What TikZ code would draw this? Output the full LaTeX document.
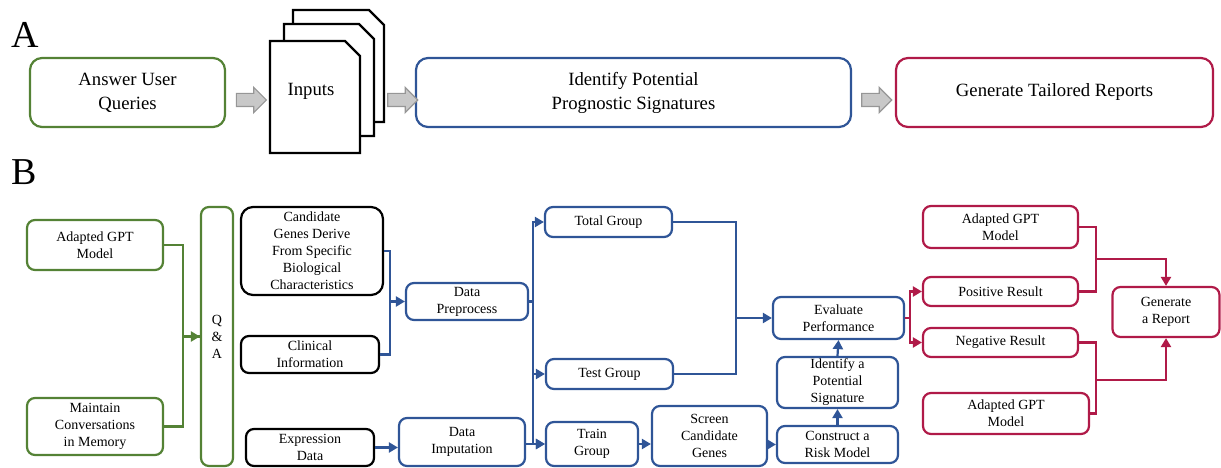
\documentclass[tikz,border=0pt]{standalone}
\usepackage{fontspec}
\setmainfont{Liberation Serif}
\usetikzlibrary{arrows.meta,shapes.arrows}
\definecolor{qagreen}{RGB}{84,130,53}
\definecolor{sigblue}{RGB}{47,85,151}
\definecolor{repred}{RGB}{176,26,72}
\definecolor{arrowfill}{RGB}{200,200,200}
\definecolor{arrowedge}{RGB}{150,150,150}
\begin{document}
\begin{tikzpicture}[x = 1pt, y = -1pt,
    box/.style = {draw, rounded corners = 8pt, line width = 2.2pt, align = center,
      inner sep = 0pt, font = \fontsize{14}{17}\selectfont},
    bigbox/.style = {box, rounded corners = 12pt, font = \fontsize{18.7}{24}\selectfont},
    link/.style = {line width = 2.2pt},
    flow/.style = {link, -{Triangle[length = 9pt, width = 10pt]}},
    blockarrow/.style = {single arrow, draw = arrowedge, fill = arrowfill, line width = 1.2pt,
      minimum height = 30pt, inner xsep = 1pt, inner ysep = 6pt, single arrow head extend = 6pt},
    page/.style = {draw, fill = white, line width = 2.4pt}]
  \useasboundingbox (0, 0) rectangle (1221, 468);
  % panel labels
  \node[font = \fontsize{38}{38}\selectfont] (labA) at (25, 35) {A};
  \node[font = \fontsize{38}{38}\selectfont] (labB) at (24, 172) {B};
  % panel A
  \node[bigbox, qagreen, text = black, minimum width = 195pt, minimum height = 69pt]
    (ans) at (127.5, 92.5) {Answer User\\Queries};
  \draw[page] (293, 10) -- (369, 10) -- (384, 25) -- (384, 122) -- (293, 122) -- cycle;
  \draw[page] (284, 24) -- (359, 24) -- (374, 39) -- (374, 136) -- (284, 136) -- cycle;
  \draw[page] (270, 41) -- (345, 41) -- (360, 56) -- (360, 153) -- (270, 153) -- cycle;
  \node[font = \fontsize{18.7}{24}\selectfont] (inputs) at (311, 91) {Inputs};
  \coordinate (inputsin) at (270, 100);
  \coordinate (inputsout) at (384, 100);
  \node[bigbox, sigblue, text = black, minimum width = 435pt, minimum height = 69pt]
    (ident) at (633.5, 92.5) {Identify Potential\\Prognostic Signatures};
  \node[bigbox, repred, text = black, minimum width = 317pt, minimum height = 69pt]
    (gen) at (1054.5, 92.5) {Generate Tailored Reports};
  \path (ans.east |- inputsin) -- (inputsin) node[blockarrow, midway] {};
  \path (inputsout) -- (inputsout -| ident.west) node[blockarrow, midway] {};
  \path (ident.east |- inputsout) -- (inputsout -| gen.west) node[blockarrow, midway] {};
  % panel B: question answering
  \node[box, qagreen, text = black, minimum width = 136pt, minimum height = 50pt]
    (gptL) at (95, 245) {Adapted GPT\\Model};
  \node[box, qagreen, text = black, minimum width = 136pt, minimum height = 57pt]
    (mem) at (95, 426.5) {Maintain\\Conversations\\in Memory};
  \node[box, qagreen, text = black, minimum width = 32pt, minimum height = 259pt]
    (qa) at (217, 336.5) {Q\\\&\\A};
  \draw[flow, qagreen] (gptL.east) -- ++(19, 0) |- (qa.west);
  \draw[link, qagreen] (mem.east) -- ++(19, 0) |- (qa.west);
  % panel B: inputs
  \node[box, rounded corners = 12pt, minimum width = 142pt, minimum height = 88pt]
    (cand) at (312, 251) {Candidate\\Genes Derive\\From Specific\\Biological\\Characteristics};
  \node[box, minimum width = 138pt, minimum height = 37pt]
    (clin) at (310, 354.5) {Clinical\\Information};
  \node[box, minimum width = 128pt, minimum height = 37pt]
    (expr) at (310, 447.5) {Expression\\Data};
  % panel B: signature pipeline
  \node[box, sigblue, text = black, minimum width = 122pt, minimum height = 37pt]
    (prep) at (467, 301.5) {Data\\Preprocess};
  \node[box, sigblue, text = black, minimum width = 126pt, minimum height = 48pt]
    (imput) at (462, 442) {Data\\Imputation};
  \node[box, sigblue, text = black, minimum width = 127pt, minimum height = 30pt]
    (total) at (608.5, 222) {Total Group};
  \node[box, sigblue, text = black, minimum width = 127pt, minimum height = 30pt]
    (test) at (609.5, 374) {Test Group};
  \node[box, sigblue, text = black, minimum width = 92pt, minimum height = 44pt]
    (train) at (592, 444) {Train\\Group};
  \node[box, sigblue, text = black, minimum width = 115pt, minimum height = 60pt]
    (screen) at (709.5, 436) {Screen\\Candidate\\Genes};
  \node[box, sigblue, text = black, minimum width = 131pt, minimum height = 42pt]
    (eval) at (838.5, 318) {Evaluate\\Performance};
  \node[box, sigblue, text = black, minimum width = 121pt, minimum height = 51pt]
    (sig) at (837.5, 382.5) {Identify a\\Potential\\Signature};
  \node[box, sigblue, text = black, minimum width = 121pt, minimum height = 37pt]
    (risk) at (837.5, 444.5) {Construct a\\Risk Model};
  \coordinate (j1) at (390, 301.5);
  \coordinate (j2) at (533, 301.5);
  \coordinate (j3) at (736, 318);
  \draw[link, sigblue] (cand.east) -| (j1) |- (clin.east);
  \draw[flow, sigblue] (j1) -- (prep.west);
  \draw[flow, sigblue] (expr.east) -- (expr.east -| imput.west);
  \draw[link, sigblue] (prep.east) -- (j2);
  \draw[flow, sigblue] (j2) |- (total.west);
  \draw[flow, sigblue] (j2) |- (test.west);
  \draw[flow, sigblue] (j2) |- (train.west);
  \draw[flow, sigblue] (imput.east |- train.west) -- (train.west);
  \draw[flow, sigblue] (train.east) -- (train.east -| screen.west);
  \draw[flow, sigblue] (screen.east |- risk.west) -- (risk.west);
  \draw[flow, sigblue] (risk.north) -- (sig.south);
  \draw[flow, sigblue] (sig.north) -- (eval.south);
  \draw[link, sigblue] (total.east) -| (j3) |- (test.east);
  \draw[flow, sigblue] (j3) -- (eval.west);
  % panel B: reports
  \node[box, repred, text = black, minimum width = 155pt, minimum height = 42pt]
    (gptT) at (1000.5, 227) {Adapted GPT\\Model};
  \node[box, repred, text = black, minimum width = 155pt, minimum height = 29pt]
    (pos) at (1000.5, 291.5) {Positive Result};
  \node[box, repred, text = black, minimum width = 155pt, minimum height = 29pt]
    (neg) at (1000.5, 342.5) {Negative Result};
  \node[box, repred, text = black, minimum width = 166pt, minimum height = 41pt]
    (gptB) at (1006, 413.5) {Adapted GPT\\Model};
  \node[box, repred, text = black, minimum width = 107pt, minimum height = 50pt]
    (report) at (1166, 312) {Generate\\a Report};
  \coordinate (j4) at (910, 318);
  \coordinate (j5) at (1096, 259);
  \coordinate (j6) at (1096, 380);
  \draw[link, repred] (eval.east) -- (j4);
  \draw[flow, repred] (j4) |- (pos.west);
  \draw[flow, repred] (j4) |- (neg.west);
  \draw[link, repred] (gptT.east) -| (j5) |- (pos.east);
  \draw[flow, repred] (j5) -| (report.north);
  \draw[link, repred] (neg.east) -| (j6) |- (gptB.east);
  \draw[flow, repred] (j6) -| (report.south);
\end{tikzpicture}
\end{document}
